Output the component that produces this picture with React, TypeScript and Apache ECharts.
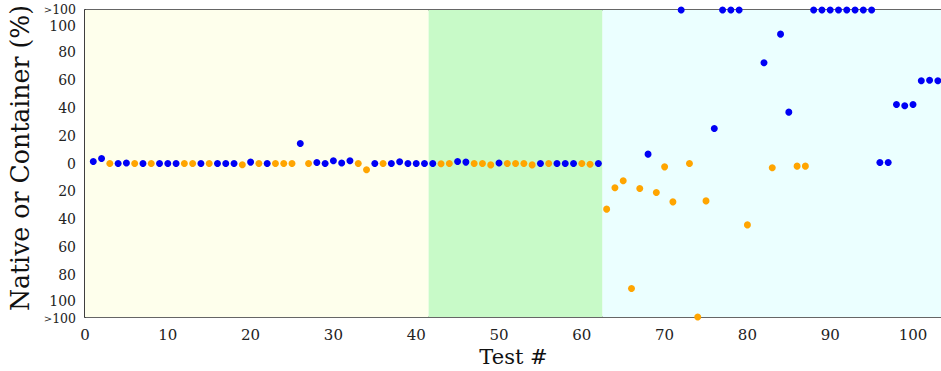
import React, { useEffect, useRef } from "react";
import * as echarts from "echarts";

// Test numbers 1..103
const tests: number[] = Array.from({ length: 103 }, (_, i) => i + 1);
// Signed difference (%) per test; +110 / -110 mark the ">100" band; null = no point
const values: (number | null)[] = [
  1.4, 3.6, 0, 0, 0.3, 0, 0, 0, 0, 0,
  0, 0, 0, 0, 0, 0, 0, 0, -0.9, 1,
  0, 0, 0, 0, 0, 14.3, 0, 0.7, 0, 2,
  0.3, 2, 0, -4.5, 0, 0, 0, 1.2, 0, 0,
  0, 0, -0.2, 0, 1.4, 1, 0, 0, -1, 0.3,
  0, 0, 0, -1, 0, 0, 0, 0, 0, 0,
  -0.5, 0, -32.7, -17.4, -12.4, -89.6, -17.9, 6.7, -20.8, -2.4,
  -27.5, 110, 0, -110, -26.8, 25.1, 110, 110, 110, -44,
  null, 72.2, -3.1, 92.7, 36.8, -1.9, -1.9, 110, 110, 110,
  110, 110, 110, 110, 110, 0.7, 0.7, 42.3, 41.4, 42.3,
  59.3, 59.7, 59.3,
];
// Which configuration is faster: B = native (blue), C = container (orange)
const kinds: string =
  "BBCBBCBCBB" +
  "BCCBCBBBCB" +
  "CBCCCBCBBB" +
  "BBCCBCBBBB" +
  "BBCCBBCCCB" +
  "CCCCBCBBBC" +
  "CBCCCCCBCC" +
  "CBCCCBBBBC" +
  "-BCBBCCBBB" +
  "BBBBBBBBBB" +
  "BBB";

const yTickLabels: number[] = [-100, -80, -60, -40, -20, 0, 20, 40, 60, 80, 100];
const yOverLabels: number[] = [-110, 110];
const yMajorTicks: number[] = [-100, -80, -60, -40, -20, 0, 20, 40, 60, 80, 100];
const yMinorTicks: number[] = [-90, -70, -50, -30, -10, 10, 30, 50, 70, 90];
const regionBounds: number[] = [0, 41.5, 62.5, 103.5];
const regionColors: string[] = ["#FEFFEC", "#C8FAC8", "#EBFFFF"];

const FONT = "DejaVu Serif";
const AXIS_COLOR = "#333";
const TEXT_COLOR = "#222";

export default function App() {
  const ref = useRef<HTMLDivElement>(null);
  useEffect(() => {
    if (!ref.current) return;
    const chart = echarts.init(ref.current, null, { renderer: "svg" });
    const blue: [number, number][] = [];
    const orange: [number, number][] = [];
    tests.forEach((t, i) => {
      const v = values[i];
      if (v === null) return;
      if (kinds[i] === "B") blue.push([t, v]);
      else if (kinds[i] === "C") orange.push([t, v]);
    });
    const axisLine = { show: true, onZero: false, lineStyle: { color: AXIS_COLOR, width: 1.5 } };
    const xBase = {
      type: "value" as const,
      min: 0,
      max: regionBounds[3],
      interval: 10,
      splitLine: { show: false },
      axisLine,
      axisTick: { show: true, inside: true, length: 7, lineStyle: { color: AXIS_COLOR } },
      minorTick: { show: true, splitNumber: 2, length: 4, lineStyle: { color: AXIS_COLOR } },
    };
    const yBase = {
      type: "value" as const,
      min: -110,
      max: 110,
      splitLine: { show: false },
      axisLine,
    };
    const markAreaData = regionColors.map((c, i) => [
      { xAxis: regionBounds[i], itemStyle: { color: c, opacity: 1 } },
      { xAxis: regionBounds[i + 1] },
    ]);
    chart.setOption({
      animation: false,
      backgroundColor: "#fff",
      grid: { left: 85, top: 10, right: -1, bottom: 54, containLabel: false, outerBoundsMode: "none" },
      graphic: [
        {
          type: "text",
          x: 20,
          y: 158,
          rotation: Math.PI / 2,
          style: {
            text: "Native or Container (%)",
            font: `25.2px "${FONT}"`,
            fill: "#111",
            textAlign: "center",
            textVerticalAlign: "middle",
          },
        },
      ],
      xAxis: [
        {
          ...xBase,
          position: "bottom",
          axisLabel: { fontFamily: FONT, fontSize: 15, color: TEXT_COLOR, margin: 10 },
          name: "Test #",
          nameLocation: "middle",
          nameGap: 23,
          nameTextStyle: { fontFamily: FONT, fontSize: 21, color: "#111" },
        },
        { ...xBase, position: "top", axisLabel: { show: false } },
      ],
      yAxis: [
        {
          ...yBase,
          position: "left",
          axisTick: { show: true, inside: true, length: 7, customValues: yMajorTicks, lineStyle: { color: AXIS_COLOR } },
          axisLabel: {
            customValues: yTickLabels,
            fontFamily: FONT,
            fontSize: 14,
            color: TEXT_COLOR,
            margin: 9,
            formatter: (v: number) =>
              v === 100 ? "{dn|100}" : v === -100 ? "{up|100}" : String(Math.abs(v)),
            rich: {
              dn: { fontFamily: FONT, fontSize: 14, color: TEXT_COLOR, padding: [4, 0, 0, 0] },
              up: { fontFamily: FONT, fontSize: 14, color: TEXT_COLOR, padding: [0, 0, 4, 0] },
            },
          },
        },
        {
          ...yBase,
          position: "left",
          axisTick: { show: true, inside: true, length: 4, customValues: yMinorTicks, lineStyle: { color: AXIS_COLOR } },
          axisLabel: {
            customValues: yOverLabels,
            showMinLabel: true,
            showMaxLabel: true,
            margin: 9,
            formatter: (v: number) => (v > 0 ? "{gt|>}{ht|100}" : "{gb|>}{hb|100}"),
            rich: {
              gt: { fontFamily: FONT, fontSize: 10, color: TEXT_COLOR, padding: [0, 0, 2, 0] },
              ht: { fontFamily: FONT, fontSize: 12.5, color: TEXT_COLOR, padding: [0, 0, 2, 0] },
              gb: { fontFamily: FONT, fontSize: 10, color: TEXT_COLOR, padding: [2, 0, 0, 0] },
              hb: { fontFamily: FONT, fontSize: 12.5, color: TEXT_COLOR, padding: [2, 0, 0, 0] },
            },
          },
        },
        {
          ...yBase,
          position: "right",
          axisTick: { show: true, inside: true, length: 7, customValues: yMajorTicks, lineStyle: { color: AXIS_COLOR } },
          axisLabel: { show: false },
        },
        {
          ...yBase,
          position: "right",
          axisTick: { show: true, inside: true, length: 4, customValues: yMinorTicks, lineStyle: { color: AXIS_COLOR } },
          axisLabel: { show: false },
        },
      ],
      series: [
        {
          type: "scatter",
          name: "Native",
          data: blue,
          symbolSize: 7,
          clip: false,
          itemStyle: { color: "#0000F5", opacity: 1 },
          markArea: { silent: true, data: markAreaData },
          z: 3,
        },
        {
          type: "scatter",
          name: "Container",
          data: orange,
          symbolSize: 7,
          clip: false,
          itemStyle: { color: "#FFA500", opacity: 1 },
          z: 3,
        },
      ],
    });
    return () => chart.dispose();
  }, []);
  return (
    <div
      ref={ref}
      style={{ position: "fixed", left: 0, top: 0, width: 941, height: 371 }}
    />
  );
}
